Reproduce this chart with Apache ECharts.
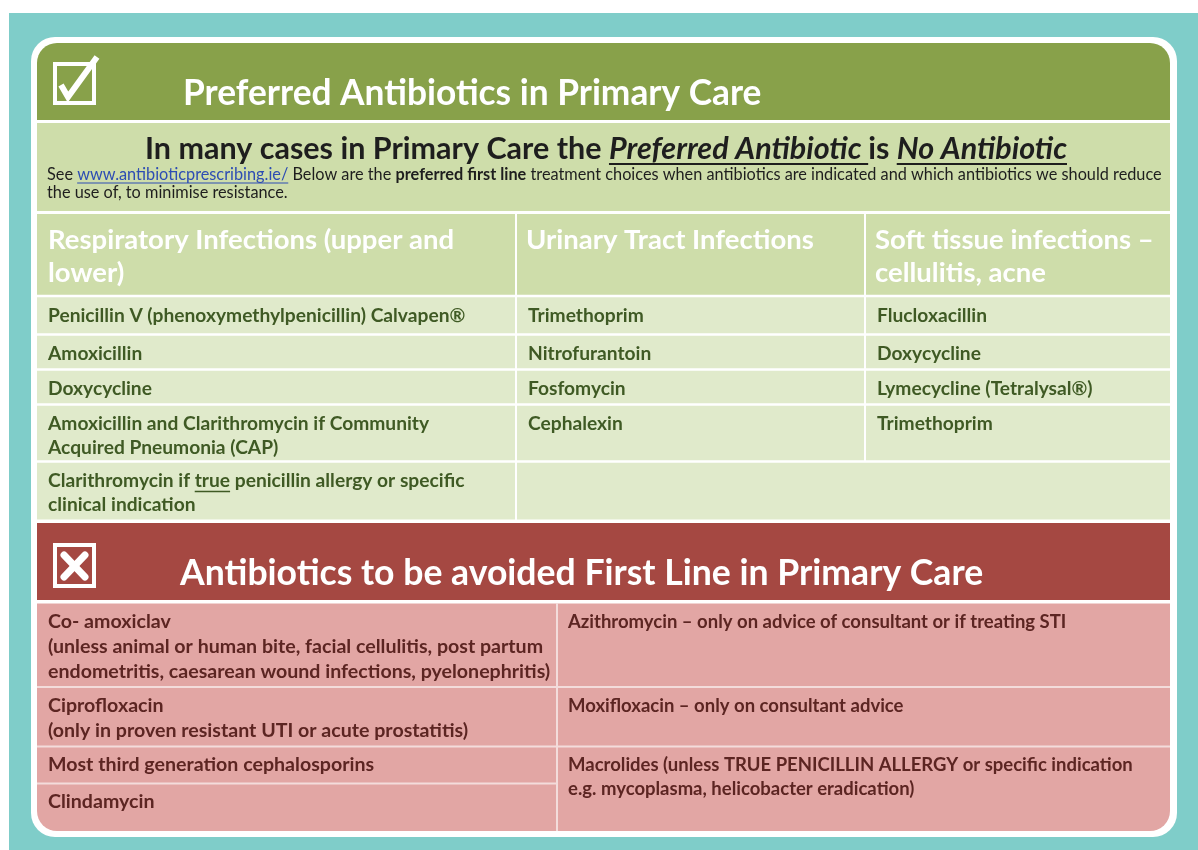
<!DOCTYPE html>
<html><head><meta charset="utf-8">
<script src="https://cdn.jsdelivr.net/npm/echarts@6/dist/echarts.min.js"></script>
<style>html,body{margin:0;padding:0;background:#fff}#c{width:1198px;height:850px}</style>
</head><body><div id="c"></div>
<script>
// ---------- content ----------
const mainTitle = 'Preferred Antibiotics in Primary Care';
const avoidTitle = 'Antibiotics to be avoided First Line in Primary Care';
const subtitleRuns = [
  {t: 'In many cases in Primary Care the ', i: false, u: false},
  {t: 'Preferred Antibiotic ', i: true, u: true},
  {t: 'is ', i: false, u: false},
  {t: 'No Antibiotic', i: true, u: true}
];
const noteLine1 = [
  {t: 'See ', b: false},
  {t: 'www.antibioticprescribing.ie/', b: false, link: true},
  {t: ' Below are the ', b: false},
  {t: 'preferred first line', b: true},
  {t: ' treatment choices when antibiotics are indicated and which antibiotics we should reduce', b: false}
];
const noteLine2 = 'the use of, to minimise resistance.';
const categories = [
  ['Respiratory Infections (upper and', 'lower)'],
  ['Urinary Tract Infections'],
  ['Soft tissue infections –', 'cellulitis, acne']
];
const respiratory = [
  ['Penicillin V (phenoxymethylpenicillin) Calvapen®'],
  ['Amoxicillin'],
  ['Doxycycline'],
  ['Amoxicillin and Clarithromycin if Community', 'Acquired Pneumonia (CAP)'],
  ['Clarithromycin if {u|true} penicillin allergy or specific', 'clinical indication']
];
const urinary = ['Trimethoprim', 'Nitrofurantoin', 'Fosfomycin', 'Cephalexin'];
const softTissue = ['Flucloxacillin', 'Doxycycline', 'Lymecycline (Tetralysal®)', 'Trimethoprim'];
const avoidLeft = [
  ['Co- amoxiclav', '(unless animal or human bite, facial cellulitis, post partum', 'endometritis, caesarean wound infections, pyelonephritis)'],
  ['Ciprofloxacin', '(only in proven resistant UTI or acute prostatitis)'],
  ['Most third generation cephalosporins'],
  ['Clindamycin']
];
const avoidRight = [
  ['Azithromycin – only on advice of consultant or if treating STI'],
  ['Moxifloxacin – only on consultant advice'],
  ['Macrolides (unless TRUE PENICILLIN ALLERGY or specific indication', 'e.g. mycoplasma, helicobacter eradication)']
];

// ---------- layout / style ----------
const FAM = 'Lato';
const C = {
  teal: '#7FCDC9', green: '#88A14A', light: '#CEDDAA', row: '#E0EACB',
  red: '#A54842', pink: '#E2A6A4', gtext: '#3F5A24', rtext: '#5C2522', dark: '#1E1E1E', link: '#2D4DB3'
};
const ctx = document.createElement('canvas').getContext('2d');
function font(size, bold, italic) { return (italic ? 'italic ' : '') + (bold ? 'bold ' : '') + size + 'px ' + FAM; }
function tw(text, f) { ctx.font = f; return ctx.measureText(text).width; }

const G = [];
function rect(x, y, w, h, fill, r) { G.push({type: 'rect', shape: {x, y, width: w, height: h, r: r || 0}, style: {fill}}); }
function line(x1, y1, x2, y2, stroke, lw) { G.push({type: 'line', shape: {x1, y1, x2, y2}, style: {stroke, lineWidth: lw}}); }
function text(x, y, t, f, fill, align) { G.push({type: 'text', x, y, style: {text: t, font: f, fill, align: align || 'left', verticalAlign: 'middle'}}); }
// text with optional {u|...} underline markup
function utext(x, y, t, size, fill) {
  const f = font(size, true);
  const parts = t.split(/(\{u\|[^}]*\})/);
  let cx = x;
  parts.forEach(p => {
    if (!p) return;
    const m = p.match(/^\{u\|(.*)\}$/);
    const s = m ? m[1] : p;
    text(cx, y, s, f, fill);
    const w = tw(s, f);
    if (m) line(cx, y + size * 0.55, cx + w, y + size * 0.55, fill, 1.4);
    cx += w;
  });
}

const TS = 35.3;    // banner titles
const HS = 27.5;    // category headers
const RS = 19.2;    // table rows
const PSL = 19.6;   // avoided rows, left
const PSR = 18.5;   // avoided rows, right

// background
rect(0, 0, 1198, 850, '#FFFFFF');
rect(9, 13, 1189, 837, C.teal);
rect(31, 37, 1146, 800, '#FFFFFF', 24);

// ---- preferred header ----
rect(37, 43, 1133, 77, C.green, [20, 20, 0, 0]);
G.push({type: 'rect', shape: {x: 55, y: 64, width: 39, height: 39}, style: {fill: 'none', stroke: '#fff', lineWidth: 4}});
G.push({type: 'polyline', shape: {points: [[61, 85], [68, 97], [97, 57]]}, style: {stroke: '#fff', lineWidth: 6, fill: 'none', lineJoin: 'miter'}});
text(183, 94, mainTitle, font(TS, true), '#FFFFFF');

// subtitle band
rect(37, 123, 1133, 88, C.light);
(function () {
  const size = 30.5;
  let total = 0;
  subtitleRuns.forEach(r => total += tw(r.t, font(size, true, r.i)));
  let cx = 606 - total / 2;
  subtitleRuns.forEach(r => {
    const f = font(size, true, r.i);
    const w = tw(r.t, f);
    text(cx, 149, r.t, f, C.dark);
    if (r.u) line(cx, 164, cx + w, 164, C.dark, 1.8);
    cx += w;
  });
  const ns = 16.3;
  let nx = 47;
  noteLine1.forEach(r => {
    const f = font(ns, r.b);
    const w = tw(r.t, f);
    text(nx, 175, r.t, f, r.link ? C.link : C.dark);
    if (r.link) line(nx, 183, nx + w, 183, C.link, 1);
    nx += w;
  });
  text(47, 193, noteLine2, font(ns, false), C.dark);
})();

// preferred table
const colX = [40, 518, 867, 1170];
rect(37, 214, 1133, 81, C.light);
categories.forEach((lines, i) => {
  lines.forEach((l, k) => text(colX[i] + 8, 240 + k * 33, l, font(HS, true), '#FFFFFF'));
});
const rowTop = [298, 336, 371, 406, 463];
const rowBot = [333, 368, 403, 460, 520];
rect(37, 297, 1133, 223, C.row);
respiratory.forEach((lines, r) => {
  lines.forEach((l, k) => utext(48, rowTop[r] + 18 + k * 24, l, RS, C.gtext));
});
urinary.forEach((t, r) => text(528, rowTop[r] + 18, t, font(RS, true), C.gtext));
softTissue.forEach((t, r) => text(877, rowTop[r] + 18, t, font(RS, true), C.gtext));
line(37, 296, 1170, 296, '#FFFFFF', 2.5);
rowBot.slice(0, 4).forEach(y => line(37, y + 1.5, 1170, y + 1.5, '#FFFFFF', 2.5));
line(516, 214, 516, 520, '#FFFFFF', 2);
line(865, 214, 865, 461, '#FFFFFF', 2);
line(37, 521, 1170, 521, '#FFFFFF', 3);

// ---- avoided header ----
rect(37, 523, 1133, 77, C.red);
G.push({type: 'rect', shape: {x: 55, y: 545, width: 39, height: 41}, style: {fill: 'none', stroke: '#fff', lineWidth: 4}});
G.push({type: 'line', shape: {x1: 64, y1: 555, x2: 85, y2: 577}, style: {stroke: '#fff', lineWidth: 7, lineCap: 'round'}});
G.push({type: 'line', shape: {x1: 85, y1: 555, x2: 64, y2: 577}, style: {stroke: '#fff', lineWidth: 7, lineCap: 'round'}});
text(180, 574, avoidTitle, font(TS + 0.3, true), '#FFFFFF');

// avoided table
rect(37, 603, 1133, 228, C.pink, [0, 0, 20, 20]);
const lTop = [605, 689, 748, 785];
const rTop = [605, 689, 748];
avoidLeft.forEach((lines, r) => lines.forEach((l, k) => text(48, lTop[r] + 17 + k * 25, l, font(PSL, true), C.rtext)));
avoidRight.forEach((lines, r) => lines.forEach((l, k) => text(568, rTop[r] + 17 + k * 24, l, font(PSR, true), C.rtext)));
line(37, 602, 1170, 602, '#FFFFFF', 3);
line(37, 687, 1170, 687, '#F3DCDB', 2);
line(37, 746.5, 1170, 746.5, '#F3DCDB', 2);
line(37, 783.5, 556, 783.5, '#F3DCDB', 2);
line(557, 603, 557, 831, '#F3DCDB', 2);

const chart = echarts.init(document.getElementById('c'), null, {renderer: 'canvas'});
chart.setOption({animation: false, graphic: {elements: G}});
</script>
</body></html>
